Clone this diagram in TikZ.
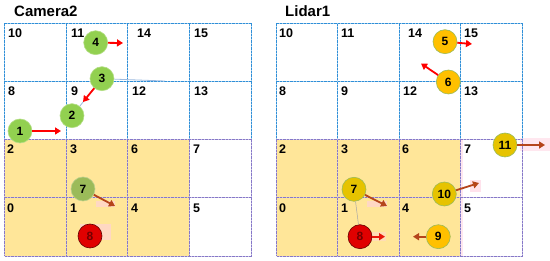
\documentclass[tikz,border=0pt]{standalone}
\usepackage{fontspec}
\setmainfont{Liberation Sans}
\usetikzlibrary{arrows.meta}
\definecolor{gridblue}{HTML}{2F8FD8}
\definecolor{gridpurple}{HTML}{8678C8}
\definecolor{yfill}{HTML}{FFE699}
\definecolor{cgreen}{HTML}{92D050}
\definecolor{colive}{HTML}{9BBB59}
\definecolor{corange}{HTML}{FFC000}
\definecolor{cgold}{HTML}{E6C300}
\definecolor{cred}{HTML}{E00000}
\definecolor{abrown}{HTML}{B5451B}
\definecolor{pinkbg}{HTML}{FFD0E0}
\definecolor{thinblue}{HTML}{9DBBE0}
\tikzset{
  gline/.style={gridblue, line width=1.5pt, dash pattern=on 2.4pt off 1pt,
    preaction={draw, gridblue!45, solid, line width=1.5pt}},
  pline/.style={gridpurple, line width=1.5pt, dash pattern=on 2.4pt off 1pt,
    preaction={draw, gridpurple!45, solid, line width=1.5pt}},
  cell/.style={anchor=base west, inner sep=0pt, font=\fontsize{12.5}{13}\selectfont\bfseries},
  ttl/.style={anchor=base west, inner sep=0pt, font=\fontsize{15}{16}\selectfont\bfseries},
  obj/.style={circle, minimum size=24pt, inner sep=0pt, line width=0.6pt, font=\fontsize{12}{12}\selectfont\bfseries},
  gobj/.style={obj, fill=cgreen, draw=cgreen!70!white},
  oobj/.style={obj, fill=corange, draw=colive},
  yobj/.style={obj, fill=cgold, draw=colive},
  robj/.style={obj, fill=cred, draw=red!40!black, text=red!45!black},
  rarr/.style={red, line width=1.8pt, -{Triangle[length=6pt,width=7pt]}},
  barr/.style={abrown, line width=1.8pt, -{Triangle[length=6pt,width=7pt]}},
}
\begin{document}
\begin{tikzpicture}[x=1pt,y=-1pt]
\useasboundingbox (0,0) rectangle (550,261);
\fill[white] (0,0) rectangle (550,261);
% yellow regions
\fill[yfill] (4.5,139.5) rectangle (189.5,256.5);
\fill[yfill] (276.5,139.5) rectangle (460.5,256.5);
% pink patches
\fill[pinkbg, opacity=0.5] (520,138) rectangle (550,151);
\fill[pinkbg, opacity=0.6] (470,180) rectangle (481,192);
\fill[pinkbg, opacity=0.5] (461,140) rectangle (463,256);
\fill[pinkbg, opacity=0.6] (80,224) rectangle (111,240);
\fill[pinkbg, opacity=0.6] (96,201) rectangle (115,207);
\fill[pinkbg, opacity=0.6] (367,201) rectangle (387,207);
\fill[pinkbg, opacity=0.4] (372,232) rectangle (386,241);
% grids (left)
\foreach \x in {4.5,66.5,127.5,189.5,251.5}{
  \draw[gline] (\x,23.5) -- (\x,139.5);
  \draw[pline] (\x,139.5) -- (\x,256.5);
}
\draw[gline] (4.5,23.5) -- (251.5,23.5);
\draw[gline] (4.5,81.5) -- (251.5,81.5);
\draw[pline] (4.5,139.5) -- (251.5,139.5);
\draw[pline] (4.5,197.5) -- (251.5,197.5);
\draw[pline] (4.5,256.5) -- (251.5,256.5);
% grids (right)
\foreach \x in {276.5,337.5,399.5,460.5,522.5}{
  \draw[gline] (\x,23.5) -- (\x,139.5);
  \draw[pline] (\x,139.5) -- (\x,256.5);
}
\draw[gline] (276.5,23.5) -- (522.5,23.5);
\draw[gline] (276.5,81.5) -- (522.5,81.5);
\draw[pline] (276.5,139.5) -- (522.5,139.5);
\draw[pline] (276.5,197.5) -- (522.5,197.5);
\draw[pline] (276.5,256.5) -- (522.5,256.5);
% titles
\node[ttl] (t1) at (14,16.7) {Camera2};
\node[ttl] (t2) at (285,16.7) {Lidar1};
% cell labels, left
\node[cell] (l10) at (8,37.5) {10};
\node[cell] (l11) at (71,37.5) {11};
\node[cell] (l14) at (137,37.5) {14};
\node[cell] (l15) at (194,37.5) {15};
\node[cell] (l8) at (8,95.8) {8};
\node[cell] (l9) at (71,95.8) {9};
\node[cell] (l12) at (132,95.8) {12};
\node[cell] (l13) at (194,95.8) {13};
\node[cell] (l2) at (7,154) {2};
\node[cell] (l3) at (70,154) {3};
\node[cell] (l6) at (131,154) {6};
\node[cell] (l7) at (193,154) {7};
\node[cell] (l0) at (7,212.3) {0};
\node[cell] (l1) at (70,212.3) {1};
\node[cell] (l4) at (131,212.3) {4};
\node[cell] (l5) at (193,212.3) {5};
% cell labels, right
\node[cell] (r10) at (279,37.5) {10};
\node[cell] (r11) at (341,37.5) {11};
\node[cell] (r14) at (408,37.5) {14};
\node[cell] (r15) at (464,37.5) {15};
\node[cell] (r8) at (279,95.8) {8};
\node[cell] (r9) at (341,95.8) {9};
\node[cell] (r12) at (403,95.8) {12};
\node[cell] (r13) at (464,95.8) {13};
\node[cell] (r2) at (279,154) {2};
\node[cell] (r3) at (341,154) {3};
\node[cell] (r6) at (402,154) {6};
\node[cell] (r7) at (464,154) {7};
\node[cell] (r0) at (279,212.3) {0};
\node[cell] (r1) at (341,212.3) {1};
\node[cell] (r4) at (402,212.3) {4};
\node[cell] (r5) at (464,212.3) {5};
% end coordinates
\coordinate (e4) at (123,43);
\coordinate (e3) at (83,102);
\coordinate (f3) at (165,81);
\coordinate (e1) at (61,131);
\coordinate (e7) at (115,206);
\coordinate (E5) at (472,44);
\coordinate (E6) at (421,63.5);
\coordinate (E7) at (387,206);
\coordinate (E8) at (385,236.7);
\coordinate (E9) at (413,236.7);
\coordinate (E10) at (479,183);
\coordinate (E11) at (545,145);
% left objects
\node[gobj] (c4) at (95.7,42.7) {4};
\node[gobj] (c2) at (72,115.7) {2};
\draw[thinblue, line width=0.8pt] (c2) -- (102,78.7);
\node[gobj] (c3) at (102,78.7) {3};
\draw[thinblue, line width=0.8pt] (c3) -- (f3);
\node[gobj] (c1) at (20,131) {1};
\node[obj, fill=colive, draw=colive!70!white] (c7) at (83,189) {7};
\node[robj] (c8) at (90,236) {8};
\draw[rarr] (c4) -- (e4);
\draw[rarr] (c3) -- (e3);
\draw[rarr] (c1) -- (e1);
\draw[barr] (c7) -- (e7);
% right objects
\node[oobj] (d5) at (445,41.7) {5};
\node[oobj] (d6) at (448.3,82) {6};
\node[yobj] (d7) at (354,189.3) {7};
\node[robj] (d8) at (360,236.7) {8};
\draw[gray!70, line width=0.5pt] (d7) -- (d8);
\node[oobj] (d9) at (438.3,236.7) {9};
\node[yobj] (d10) at (444.3,194) {10};
\node[yobj] (d11) at (505,145) {11};
\draw[rarr] (d5) -- (E5);
\draw[rarr] (d6) -- (E6);
\draw[barr] (d7) -- (E7);
\draw[barr, red!70!abrown] (d8) -- (E8);
\draw[barr] (d9) -- (E9);
\draw[barr] (d10) -- (E10);
\draw[barr] (d11) -- (E11);
\end{tikzpicture}
\end{document}
